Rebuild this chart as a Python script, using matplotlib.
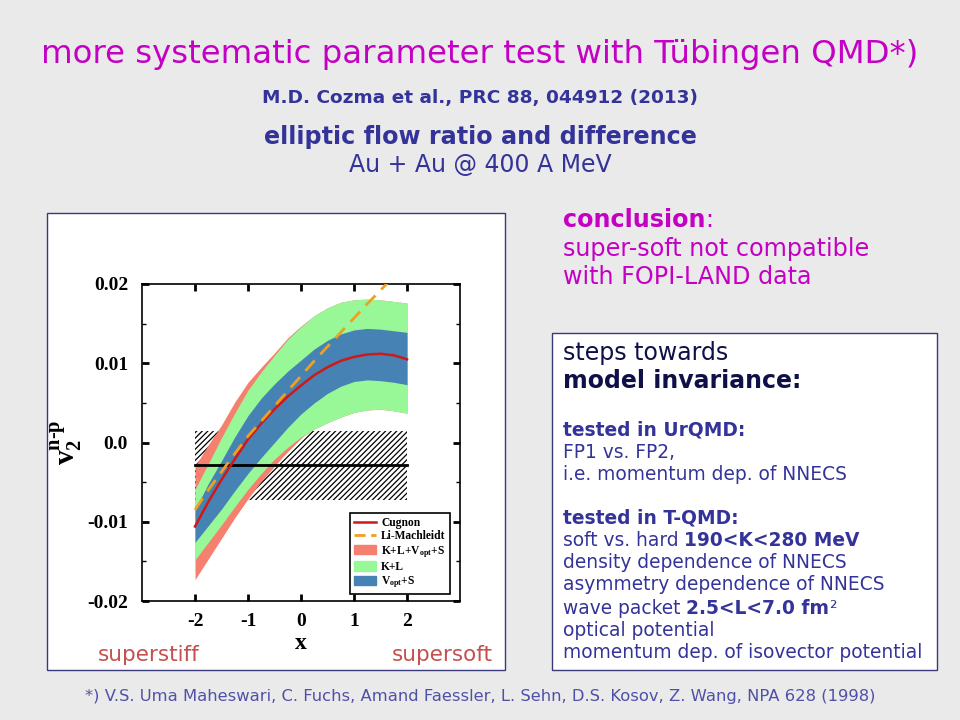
import numpy as np
import matplotlib.pyplot as plt
from matplotlib.patches import Rectangle, Patch
from matplotlib.lines import Line2D
from matplotlib.ticker import MultipleLocator

# symmetry energy stiffness parameter x
x = [-2, -1.75, -1.5, -1.25, -1, -0.75, -0.5, -0.25, 0,
     0.25, 0.5, 0.75, 1, 1.25, 1.5, 1.75, 2]

cugnon = [-0.0106, -0.0075, -0.0047, -0.0021, 0.0004, 0.0024, 0.0042, 0.0058, 0.0072,
          0.0085, 0.0095, 0.0103, 0.0108, 0.0111, 0.0112, 0.0110, 0.0105]

x_lm = [-2, -1.75, -1.5, -1.25, -1, -0.75, -0.5, -0.25, 0,
        0.25, 0.5, 0.75, 1, 1.25, 1.5, 1.75]
li_machleidt = [-0.0085, -0.0060, -0.0037, -0.0014, 0.0008, 0.0027, 0.0046, 0.0065, 0.0084,
                0.0103, 0.0121, 0.0139, 0.0157, 0.0175, 0.0192, 0.0210]

# K+L+Vopt+S band
all_hi = [-0.0030, -0.0003, 0.0022, 0.0051, 0.0076, 0.0095, 0.0113, 0.0132, 0.0147,
          0.0160, 0.0170, 0.0177, 0.0180, 0.0181, 0.0180, 0.0178, 0.0176]
all_lo = [-0.0173, -0.0147, -0.0121, -0.0095, -0.0071, -0.0049, -0.0030, -0.0011, 0.0006,
          0.0017, 0.0025, 0.0032, 0.0038, 0.0041, 0.0042, 0.0040, 0.0037]
# K+L band
kl_hi = [-0.0059, -0.0027, 0.0006, 0.0037, 0.0066, 0.0089, 0.0110, 0.0130, 0.0146,
         0.0160, 0.0170, 0.0177, 0.0180, 0.0181, 0.0180, 0.0178, 0.0176]
kl_lo = [-0.0148, -0.0126, -0.0104, -0.0081, -0.0059, -0.0039, -0.0021, -0.0006, 0.0007,
         0.0017, 0.0025, 0.0032, 0.0038, 0.0041, 0.0042, 0.0040, 0.0037]
# Vopt+S band
vs_hi = [-0.0085, -0.0052, -0.0023, 0.0007, 0.0034, 0.0056, 0.0074, 0.0090, 0.0104,
         0.0118, 0.0129, 0.0137, 0.0142, 0.0144, 0.0143, 0.0141, 0.0139]
vs_lo = [-0.0126, -0.0105, -0.0084, -0.0061, -0.0039, -0.0019, 0.0000, 0.0019, 0.0036,
         0.0050, 0.0062, 0.0071, 0.0077, 0.0079, 0.0078, 0.0076, 0.0073]

# FOPI-LAND data: mean and error band
data_x = [-2, 2]
data_mean = [-0.0028, -0.0028]
data_lo = [-0.0072, -0.0072]
data_hi = [0.0014, 0.0014]

xticks = [-2, -1, 0, 1, 2]
xtick_labels = ['-2', '-1', '0', '1', '2']
yticks = [-0.02, -0.01, 0.0, 0.01, 0.02]
ytick_labels = ['-0.02', '-0.01', '0.0', '0.01', '0.02']

MAG = '#C400C4'
NAVY = '#333399'

plt.rcParams['font.family'] = 'DejaVu Sans'
plt.rcParams['axes.unicode_minus'] = False
plt.rcParams['mathtext.fontset'] = 'custom'
plt.rcParams['mathtext.rm'] = 'Liberation Serif'
plt.rcParams['mathtext.bf'] = 'Liberation Serif:bold'
plt.rcParams['mathtext.it'] = 'Liberation Serif:italic'
plt.rcParams['hatch.linewidth'] = 0.9

fig = plt.figure(figsize=(9.6, 7.2), dpi=100, facecolor='#EAEAEA')
W, H = 960, 720


def fx(p):
    return p / W


def fy(p):
    return 1 - p / H


# white panels (behind the axes)
fig.add_artist(Rectangle((fx(47), fy(670)), 458 / W, 457 / H, transform=fig.transFigure,
                         facecolor='white', edgecolor='#3a3a7a', lw=1, zorder=-1))
fig.add_artist(Rectangle((fx(552), fy(670)), 385 / W, 337 / H, transform=fig.transFigure,
                         facecolor='white', edgecolor='#3a3a7a', lw=1, zorder=-1))

ax = fig.add_axes([fx(142), fy(601), 318 / W, 317 / H])
ax.set_xlim(-3, 3)
ax.set_ylim(-0.02, 0.02)

ax.fill_between(data_x, data_lo, data_hi, facecolor='none', edgecolor='black',
                hatch='//////', linewidth=0, zorder=1)
ax.fill_between(x, all_lo, all_hi, color='#F58070', lw=0, zorder=2)
ax.fill_between(x, kl_lo, kl_hi, color='#98F898', lw=0, zorder=3)
ax.fill_between(x, vs_lo, vs_hi, color='#4682B4', lw=0, zorder=4)
ax.plot(data_x, data_mean, color='black', lw=2, zorder=5)
ax.plot(x, cugnon, color='#D01818', lw=1.8, zorder=6)
ax.plot(x_lm, li_machleidt, color='#F0A020', lw=2, dashes=(5, 3), zorder=7)

ax.set_xticks(xticks)
ax.set_xticklabels(xtick_labels)
ax.set_yticks(yticks)
ax.set_yticklabels(ytick_labels)
ax.yaxis.set_minor_locator(MultipleLocator(0.005))
ax.tick_params(which='both', direction='in', top=True, right=True)
ax.tick_params(which='major', length=5, width=2)
ax.tick_params(which='minor', length=3, width=1)
ax.tick_params(axis='y', pad=10)
ax.tick_params(axis='x', pad=9)
for lab in ax.get_xticklabels() + ax.get_yticklabels():
    lab.set_fontfamily('Liberation Serif')
    lab.set_fontweight('bold')
    lab.set_fontsize(14)
for s in ax.spines.values():
    s.set_linewidth(1.2)

ax.set_xlabel('x', fontfamily='Liberation Serif', fontweight='bold', fontsize=17, labelpad=2)
ax.set_ylabel(r'$\mathbf{v}_{\mathbf{2}}^{\mathbf{n\text{-}p}}$', fontsize=21, labelpad=2)

handles = [Line2D([], [], color='#D01818', lw=1.8),
           Line2D([], [], color='#F0A020', lw=2, dashes=(4, 2)),
           Patch(color='#F58070'), Patch(color='#98F898'), Patch(color='#4682B4')]
labels = ['Cugnon', 'Li-Machleidt', r'K+L+V$_{\mathbf{opt}}$+S', 'K+L', r'V$_{\mathbf{opt}}$+S']
leg = ax.legend(handles, labels, loc='lower right', bbox_to_anchor=(0.968, 0.022),
                prop={'family': 'Liberation Serif', 'weight': 'bold', 'size': 8.3},
                frameon=True, fancybox=False, edgecolor='black', framealpha=1,
                handlelength=1.9, handleheight=0.85, labelspacing=0.12, borderpad=0.35,
                handletextpad=0.45, borderaxespad=0)
leg.get_frame().set_linewidth(1.2)
leg.set_zorder(10)

fig.text(fx(98), fy(655), 'superstiff', fontsize=15.5, color='#C45050', va='center')
fig.text(fx(493), fy(655), 'supersoft', fontsize=15.5, color='#C45050', va='center', ha='right')

# header
fig.text(0.5, fy(55), 'more systematic parameter test with Tübingen QMD*)', fontsize=23.3,
         color=MAG, ha='center', va='center')
fig.text(0.5, fy(98), 'M.D. Cozma et al., PRC 88, 044912 (2013)', fontsize=13.3,
         fontweight='bold', color=NAVY, ha='center', va='center')
fig.text(0.5, fy(137), 'elliptic flow ratio and difference', fontsize=17.2,
         fontweight='bold', color=NAVY, ha='center', va='center')
fig.text(0.5, fy(165), 'Au + Au @ 400 A MeV', fontsize=17, color=NAVY,
         ha='center', va='center')

renderer = fig.canvas.get_renderer()


def runs(xp, yp, parts, size, color):
    x0 = xp
    for s, bold in parts:
        t = fig.text(x0 / W, fy(yp), s, fontsize=size, fontweight='bold' if bold else 'normal',
                     color=color, va='center', ha='left')
        x0 = t.get_window_extent(renderer=renderer).x1


runs(563, 220, [('conclusion', True), (':', False)], 17.2, MAG)
fig.text(fx(563), fy(249), 'super-soft not compatible', fontsize=17.2, color=MAG, va='center')
fig.text(fx(563), fy(277), 'with FOPI-LAND data', fontsize=17.2, color=MAG, va='center')

# right box
fig.text(fx(563), fy(353), 'steps towards', fontsize=17, color='#101048', va='center')
fig.text(fx(563), fy(381), 'model invariance:', fontsize=17, fontweight='bold',
         color='#101048', va='center')
box_lines = [
    (430, [('tested in UrQMD:', True)]),
    (452, [('FP1 vs. FP2,', False)]),
    (474, [('i.e. momentum dep. of NNECS', False)]),
    (518, [('tested in T-QMD:', True)]),
    (541, [('soft vs. hard ', False), ('190<K<280 MeV', True)]),
    (563, [('density dependence of NNECS', False)]),
    (585, [('asymmetry dependence of NNECS', False)]),
    (608, [('wave packet ', False), ('2.5<L<7.0 fm', True), ('²', False)]),
    (630, [('optical potential', False)]),
    (653, [('momentum dep. of isovector potential', False)]),
]
for yp, parts in box_lines:
    runs(563, yp, parts, 13.4, NAVY)

fig.text(0.5, fy(697), '*) V.S. Uma Maheswari, C. Fuchs, Amand Faessler, L. Sehn, D.S. Kosov, '
         'Z. Wang, NPA 628 (1998)', fontsize=11.8, color='#5050A8', ha='center', va='center')

fig.savefig('out.png', dpi=100, facecolor=fig.get_facecolor())
